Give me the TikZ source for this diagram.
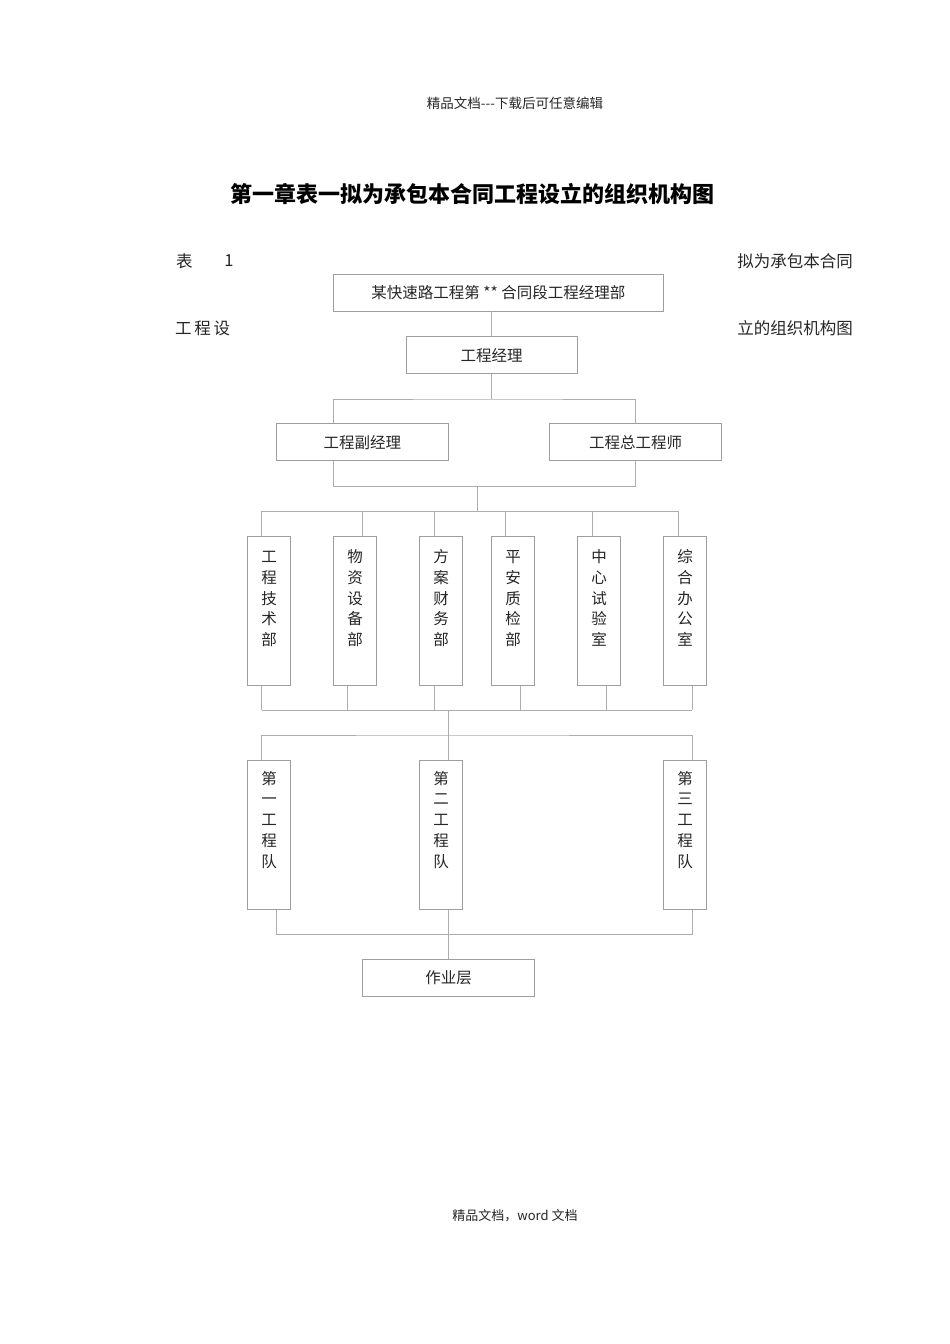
\documentclass[tikz,border=0pt]{standalone}
\usepackage{fontspec}
\usepackage{tikz}
\usetikzlibrary{positioning,calc}
\newfontfamily\cjk{Noto Sans CJK SC}
\tikzset{unit box/.style={rectangle, draw=black!38, line width=0.8pt,
    inner sep=0pt, text=black!85, font=\cjk\fontsize{15.5}{18}\selectfont}}
\tikzset{wide box/.style={unit box, minimum width=#1, minimum height=37}}
% multi-line text sits on its last line, so the height holds four line steps
\tikzset{tall box/.style={unit box, minimum width=43.4, align=center,
    text height=#1+83.2, text depth=149.3-83.2-#1,
    font=\cjk\fontsize{15.5}{20.8}\selectfont}}
\tikzset{link edge/.style={draw=black!32, line width=0.8pt}}
\tikzset{page text/.style={inner sep=0pt, text=black!85, font=\cjk\fontsize{16.5}{20}\selectfont}}

\begin{document}
\begin{tikzpicture}
  [x=1pt, y=-1pt]
  \useasboundingbox [fill=white] (0,0) rectangle (950,1344);

  % page head, title and caption
  \node [page text, font=\cjk\fontsize{13.5}{16}\selectfont] (head) at (515,103) {精品文档---下载后可任意编辑};
  \node [page text, font=\cjk\bfseries\fontsize{22}{26}\selectfont, text=black] (title) at (472,194) {第一章表一拟为承包本合同工程设立的组织机构图};
  \node [page text, anchor=west] (cap1) at (176,261) {表};
  \node [page text] (cap2) at (229,261) {1};
  \node [page text, anchor=east] (cap3) at (853,261) {拟为承包本合同};
  \node [page text, anchor=west] (cap4) at (175,328) {工\,程\,设};
  \node [page text, anchor=east] (cap5) at (853,328) {立的组织机构图};
  \node [page text, font=\cjk\fontsize{13}{16}\selectfont] (foot) at (515,1216) {精品文档，word 文档};

  % management
  \node [wide box=330]   (hq)  at (498.3,292.5) {某快速路工程第 ** 合同段工程经理部};
  \node [wide box=171.3] (pm)  at (491.7,355.2) {工程经理};
  \node [wide box=172.7] (dpm) at (362.3,442.3) {工程副经理};
  \node [wide box=172.4] (ce)  at (635.5,442.3) {工程总工程师};

  % departments
  \node [tall box=26.5] (d1) at (269,610.7) {工\\程\\技\\术\\部};
  \node [tall box=26.5] (d2) at (355,610.7) {物\\资\\设\\备\\部};
  \node [tall box=26.5] (d3) at (441,610.7) {方\\案\\财\\务\\部};
  \node [tall box=26.5] (d4) at (513,610.7) {平\\安\\质\\检\\部};
  \node [tall box=26.5] (d5) at (599,610.7) {中\\心\\试\\验\\室};
  \node [tall box=26.5] (d6) at (685,610.7) {综\\合\\办\\公\\室};

  % teams
  \node [tall box=24] (t1) at (269,834.7) {第\\一\\工\\程\\队};
  \node [tall box=24] (t2) at (441,834.7) {第\\二\\工\\程\\队};
  \node [tall box=24] (t3) at (685,834.7) {第\\三\\工\\程\\队};
  \node [wide box=172.4] (work) at (448.5,977.8) {作业层};

  % junctions
  \coordinate (j1) at (491.7,399);
  \coordinate (j2) at (477.3,486.3);
  \coordinate (j3) at (477.3,511);
  \coordinate (j4) at (448.3,710);
  \coordinate (j5) at (448.3,735);
  \coordinate (j6) at (448.3,934);

  \draw [link edge] (pm.north |- hq.south) -- (pm.north);
  \draw [link edge] (pm.south) -- (j1);
  \draw [link edge] ([xshift=-29]dpm.north) |- (j1) -| (ce.north);
  \draw [link edge] ([xshift=-29]dpm.south) |- (ce.south |- j2) -- (ce.south);
  \draw [link edge] (j2) -- (j3);

  \draw [link edge] ([xshift=-7.3]d1.north |- j3) -- ([xshift=-6.7]d6.north |- j3);
  \foreach \n/\dx in {1/-7.3, 2/7.3, 3/-6.7, 4/-7.3, 5/-6.7, 6/-6.7}
    \draw [link edge] ([xshift=\dx]d\n.north |- j3) -- ([xshift=\dx]d\n.north);

  \draw [link edge] ([xshift=-7.3]d1.south |- j4) -- ([xshift=7.3]d6.south |- j4);
  \foreach \n/\dx in {1/-7.3, 2/-7.7, 3/-6.7, 4/7, 5/7.7, 6/7.3}
    \draw [link edge] ([xshift=\dx]d\n.south) -- ([xshift=\dx]d\n.south |- j4);

  \draw [link edge] (j4) -- (t2.north -| j4);
  \draw [link edge] ([xshift=-7.3]t1.north) |- (j5) -| ([xshift=7.3]t3.north);

  \draw [link edge] ([xshift=7]t1.south) |- (j6) -| ([xshift=7.3]t3.south);
  \draw [link edge] (t2.south -| j6) -- (work.north -| j6);
\end{tikzpicture}
\end{document}
